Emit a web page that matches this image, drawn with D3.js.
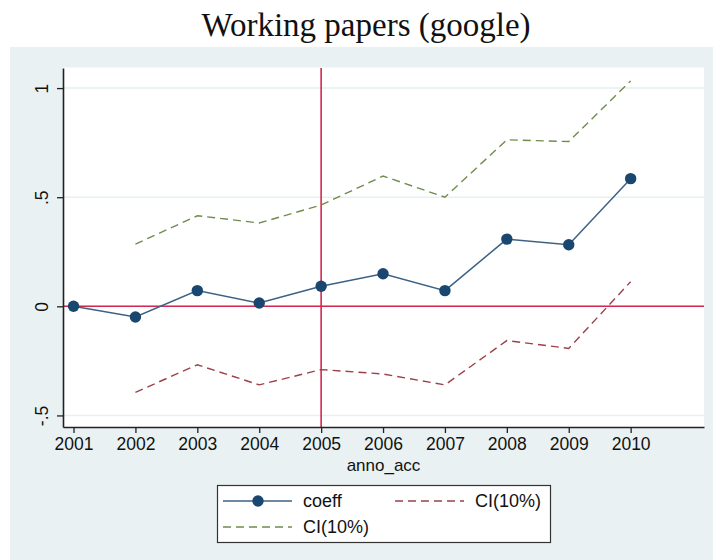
<!DOCTYPE html>
<html>
<head>
<meta charset="utf-8">
<script src="https://cdn.jsdelivr.net/npm/d3@7"></script>
<style>
  html, body { margin: 0; padding: 0; background: #ffffff; }
  svg { display: block; }
</style>
</head>
<body>
<script>
// Yearly coefficients with 10% confidence bounds
const years = [2001, 2002, 2003, 2004, 2005, 2006, 2007, 2008, 2009, 2010];
const coeff = [0, -0.049, 0.072, 0.015, 0.092, 0.149, 0.072, 0.308, 0.282, 0.585];
const ciUpper = [null, 0.285, 0.415, 0.382, 0.464, 0.597, 0.5, 0.763, 0.755, 1.033];
const ciLower = [null, -0.394, -0.268, -0.36, -0.29, -0.31, -0.36, -0.157, -0.193, 0.113];
const yTicks = [-0.5, 0, 0.5, 1];
const yTickLabels = ["-.5", "0", ".5", "1"];
const refYear = 2005;
const refValue = 0;

const W = 713, H = 560;
const navy = "#1a476f", navyLine = "#3d6185";
const maroon = "#9c4049", green = "#6f8c4c";
const refColor = "#d1294f";
const bg = "#e9f1f3";
const font = "'Liberation Sans', Arial, sans-serif";
const fs = 17.5;

const svg = d3.select("body").append("svg").attr("width", W).attr("height", H);

// graph region background
svg.append("rect").attr("x", 10).attr("y", 47).attr("width", W - 10).attr("height", H - 47).attr("fill", bg);

// title
svg.append("text")
  .attr("x", 366).attr("y", 36)
  .attr("text-anchor", "middle")
  .attr("font-family", "'Liberation Serif', 'DejaVu Serif', serif")
  .attr("font-size", 33)
  .attr("fill", "#111")
  .text("Working papers (google)");

const plot = { left: 63, right: 704, top: 68, bottom: 427 };

const x = d3.scaleLinear().domain([2000.83, 2011.185]).range([plot.left, plot.right]);
const y = d3.scaleLinear().domain([-0.553, 1.092]).range([plot.bottom, plot.top]);

// plot region
svg.append("rect").attr("x", plot.left).attr("y", plot.top - 0.5)
  .attr("width", plot.right - plot.left).attr("height", plot.bottom - plot.top + 0.5)
  .attr("fill", "#ffffff");

// horizontal grid
svg.append("g").selectAll("line").data(yTicks).join("line")
  .attr("x1", plot.left).attr("x2", plot.right)
  .attr("y1", d => y(d)).attr("y2", d => y(d))
  .attr("stroke", "#e6eff1").attr("stroke-width", 1.5);

// reference lines
svg.append("line")
  .attr("x1", plot.left).attr("x2", plot.right)
  .attr("y1", y(refValue)).attr("y2", y(refValue))
  .attr("stroke", refColor).attr("stroke-width", 1.6);
svg.append("line")
  .attr("x1", x(refYear)).attr("x2", x(refYear))
  .attr("y1", plot.top).attr("y2", plot.bottom)
  .attr("stroke", refColor).attr("stroke-width", 1.6);

const rows = years.map((yr, i) => ({ yr, c: coeff[i], lo: ciLower[i], hi: ciUpper[i] }));

const lineOf = key => d3.line()
  .defined(d => d[key] !== null)
  .x(d => x(d.yr)).y(d => y(d[key]));

// confidence bounds
svg.append("path").datum(rows).attr("d", lineOf("hi"))
  .attr("fill", "none").attr("stroke", green).attr("stroke-width", 1.4)
  .attr("stroke-dasharray", "8,5");
svg.append("path").datum(rows).attr("d", lineOf("lo"))
  .attr("fill", "none").attr("stroke", maroon).attr("stroke-width", 1.4)
  .attr("stroke-dasharray", "8,5");

// coefficient series
svg.append("path").datum(rows).attr("d", lineOf("c"))
  .attr("fill", "none").attr("stroke", navyLine).attr("stroke-width", 1.5);
svg.append("g").selectAll("circle").data(rows).join("circle")
  .attr("cx", d => x(d.yr)).attr("cy", d => y(d.c)).attr("r", 5.7)
  .attr("fill", navy);

// axes
const xAxis = d3.axisBottom(x).tickValues(years).tickFormat(d3.format("d"))
  .tickSizeInner(6).tickSizeOuter(0).tickPadding(5);
const gx = svg.append("g").attr("transform", `translate(0,${plot.bottom})`).call(xAxis);
gx.select(".domain").attr("stroke", "#222").attr("stroke-width", 1.6);
gx.selectAll(".tick line").attr("stroke", "#222").attr("stroke-width", 1.3);
gx.selectAll(".tick text").attr("font-family", font).attr("font-size", fs).attr("fill", "#111");

const yAxis = d3.axisLeft(y).tickValues(yTicks).tickFormat((d, i) => yTickLabels[i])
  .tickSizeInner(6).tickSizeOuter(0).tickPadding(8);
const gy = svg.append("g").attr("transform", `translate(${plot.left},0)`).call(yAxis);
gy.select(".domain").attr("stroke", "#222").attr("stroke-width", 1.6);
gy.selectAll(".tick line").attr("stroke", "#222").attr("stroke-width", 1.3);
gy.selectAll(".tick text")
  .attr("font-family", font).attr("font-size", fs).attr("fill", "#111")
  .attr("text-anchor", "middle").attr("dy", null).attr("x", null)
  .attr("transform", "translate(-15,0) rotate(-90)");

// x axis title
svg.append("text")
  .attr("x", (plot.left + plot.right) / 2).attr("y", 471)
  .attr("text-anchor", "middle")
  .attr("font-family", font).attr("font-size", 17).attr("fill", "#111")
  .text("anno_acc");

// legend
const lg = svg.append("g");
lg.append("rect").attr("x", 217.5).attr("y", 485.5).attr("width", 333).attr("height", 57)
  .attr("fill", "#ffffff").attr("stroke", "#333").attr("stroke-width", 1.2);

const legendItems = [
  { label: "coeff", color: navyLine, dash: null, marker: true, x0: 223, row: 0 },
  { label: "CI(10%)", color: maroon, dash: "8,5", marker: false, x0: 395, row: 0 },
  { label: "CI(10%)", color: green, dash: "8,5", marker: false, x0: 223, row: 1 }
];
legendItems.forEach(it => {
  const ly = 501 + it.row * 26;
  lg.append("line").attr("x1", it.x0).attr("x2", it.x0 + 69)
    .attr("y1", ly).attr("y2", ly)
    .attr("stroke", it.color).attr("stroke-width", it.dash ? 1.4 : 1.5)
    .attr("stroke-dasharray", it.dash);
  if (it.marker) {
    lg.append("circle").attr("cx", it.x0 + 35).attr("cy", ly).attr("r", 5.7).attr("fill", navy);
  }
  lg.append("text").attr("x", it.x0 + 80).attr("y", ly + 6)
    .attr("font-family", font).attr("font-size", 18).attr("fill", "#111")
    .text(it.label);
});
</script>
</body>
</html>
